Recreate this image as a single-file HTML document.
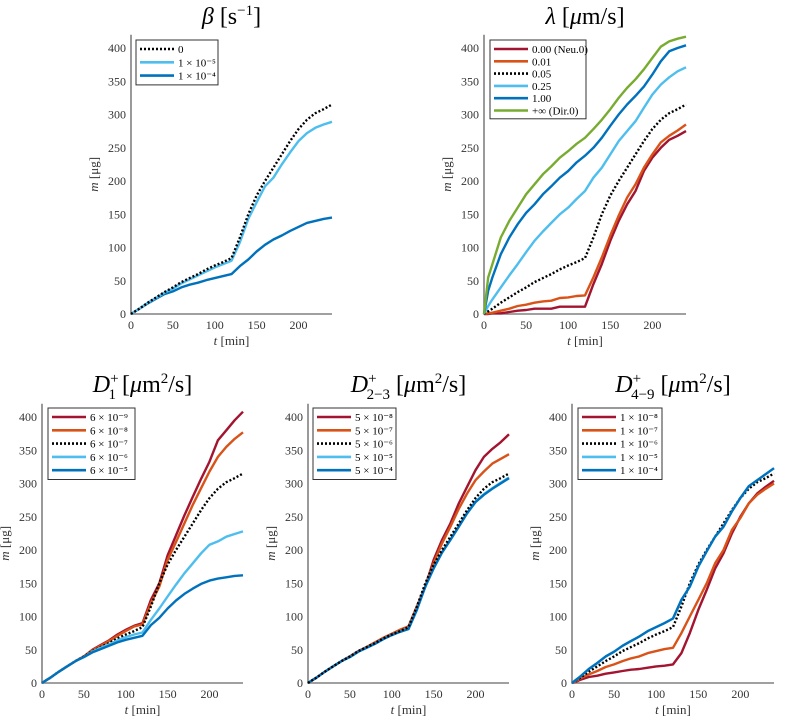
<!DOCTYPE html>
<html><head><meta charset="utf-8"><style>
body{margin:0;background:#fff;}
svg{display:block;font-family:"Liberation Serif",serif;}
</style></head><body>
<svg id="fig" width="789" height="721" viewBox="0 0 789 721"></svg>
<script>
const tVals=[0,5,10,20,30,40,50,60,70,80,90,100,110,120,130,140,150,160,170,180,190,200,210,220,230,240];
const xTicks=[0,50,100,150,200];
const yTicks=[0,50,100,150,200,250,300,350,400];
const refSeries=[0,4,8,17,25,33,40,48,54,60,67,73,78,84,115,150,178,200,220,240,260,278,292,302,308,315];
// beta
const betaLabels=["0","1 × 10⁻⁵","1 × 10⁻⁴"];
const beta1e5=[0,4,8,17,24,32,38,46,52,58,64,70,75,80,108,143,168,192,205,225,243,260,272,280,285,289];
const beta1e4=[0,4,8,16,23,30,34,40,44,47,51,54,57,60,72,82,94,104,112,118,125,131,137,140,143,145];
// lambda
const lamLabels=["0.00 (Neu.0)","0.01","0.05","0.25","1.00","+∞ (Dir.0)"];
const lam000=[0,0,1,1,3,5,6,8,8,8,11,11,11,11,45,75,110,140,165,185,215,235,250,262,268,275];
const lam001=[0,1,2,5,8,12,14,17,19,20,24,25,27,28,55,85,118,148,175,195,220,240,258,268,276,285];
const lam025=[0,12,22,40,58,75,93,110,124,137,150,160,173,185,205,220,240,260,275,290,310,330,345,356,365,371];
const lam100=[0,35,55,90,115,135,152,165,180,192,205,215,228,238,250,265,283,300,315,328,342,360,380,395,400,404];
const lamInf=[0,55,75,115,140,160,180,195,210,222,235,245,256,265,278,292,308,325,340,353,368,385,402,410,414,417];
// D1
const d1Labels=["6 × 10⁻⁹","6 × 10⁻⁸","6 × 10⁻⁷","6 × 10⁻⁶","6 × 10⁻⁵"];
const d1a=[0,4,8,17,25,33,40,50,57,64,73,80,86,90,125,150,192,222,252,280,307,333,365,380,395,408];
const d1b=[0,4,8,17,25,33,40,49,56,63,71,78,85,88,120,145,185,212,240,268,293,318,340,355,367,377];
const d1d=[0,4,8,17,25,33,39,47,53,58,64,69,73,76,95,112,130,148,165,180,195,208,213,220,224,228];
const d1e=[0,4,8,17,25,33,39,46,51,56,61,65,68,71,87,98,112,124,134,142,149,154,157,159,161,162];
// D2-3
const d2Labels=["5 × 10⁻⁸","5 × 10⁻⁷","5 × 10⁻⁶","5 × 10⁻⁵","5 × 10⁻⁴"];
const d2a=[0,4,8,17,25,33,40,48,54,61,68,74,80,85,115,145,185,215,240,270,295,320,340,352,362,374];
const d2b=[0,4,8,17,25,33,40,48,54,61,68,74,80,85,115,145,180,210,235,262,285,305,318,330,337,344];
const d2d=[0,4,8,17,25,33,39,47,53,59,66,72,77,82,111,145,173,197,216,236,256,273,284,293,301,309];
const d2e=[0,4,8,17,25,33,39,47,53,59,66,72,77,81,110,145,172,196,215,235,255,272,283,292,300,308];
// D4-9
const d4Labels=["1 × 10⁻⁸","1 × 10⁻⁷","1 × 10⁻⁶","1 × 10⁻⁵","1 × 10⁻⁴"];
const d4a=[0,2,5,9,11,14,16,18,20,21,23,25,26,28,45,75,110,140,172,195,225,250,270,285,295,304];
const d4b=[0,3,7,13,18,24,28,33,37,40,45,48,51,53,75,100,125,150,180,200,230,248,270,283,292,300];
const d4d=[0,5,10,21,30,40,47,56,63,70,78,84,90,97,125,145,175,198,220,235,258,278,296,305,314,323];
const d4e=[0,5,10,21,30,40,47,56,63,70,78,84,90,97,125,145,175,198,220,235,258,278,296,305,314,323];

const C={red:"#a2142f",orange:"#d95319",dot:"#000",lblue:"#4dbeee",blue:"#0072bd",green:"#77ac30"};
const NS="http://www.w3.org/2000/svg";
const fig=document.getElementById('fig');
function mk(tag,attrs,parent){const e=document.createElementNS(NS,tag);for(const k in attrs)e.setAttribute(k,attrs[k]);(parent||fig).appendChild(e);return e;}

function chart(cfg){
  const g=mk('g',{});
  
  
  const x=v=>cfg.x0+(cfg.x1-cfg.x0)*v/240;
  const y=v=>cfg.y0-(cfg.y0-cfg.y400)*v/400;
  const ti=mk('text',{x:(cfg.x0+cfg.x1)/2,y:cfg.ty,'text-anchor':'middle','font-size':24},g);
  
  
  ti.innerHTML=cfg.title;
  const top=y(420);
  const ax=mk('path',{d:`M${cfg.x0},${top}V${cfg.y0}H${cfg.x1}`,stroke:'#808080','stroke-width':1.6,fill:'none'},g);
  
  
  yTicks.forEach(v=>{
    const tl=mk('text',{x:cfg.x0-5,y:y(v)+4,'text-anchor':'end','font-size':12,fill:'#333'},g);
    
    
    tl.textContent=v;
  });
  xTicks.forEach(v=>{
    const tl=mk('text',{x:x(v),y:cfg.y0+15,'text-anchor':'middle','font-size':12,fill:'#333'},g);
    
    
    tl.textContent=v;
  });
  const xl=mk('text',{x:(cfg.x0+cfg.x1)/2,y:cfg.y0+31,'text-anchor':'middle','font-size':13,fill:'#333'},g);
  
  
  xl.innerHTML='<tspan font-style="italic">t</tspan> [min]';
  const yc=(cfg.y0+top)/2;
  const yl=mk('text',{x:cfg.x0-33,y:yc,'text-anchor':'middle','font-size':13,fill:'#333',transform:`rotate(-90 ${cfg.x0-33} ${yc})`},g);
  
  
  yl.innerHTML='<tspan font-style="italic">m</tspan> [μg]';
  const order=cfg.draw||cfg.series.map((s,i)=>i);
  order.forEach(i=>{
    const s=cfg.series[i];
    const d=s.data.map((v,k)=>(k?'L':'M')+x(tVals[k]).toFixed(1)+','+y(v).toFixed(1)).join('');
    const p=mk('path',{d,fill:'none',stroke:s.c,'stroke-width':2.4,'stroke-linejoin':'round'},g);
    if(s.dot)p.setAttribute('stroke-dasharray','2 2');
    
    
  });
  const L=cfg.leg;
  const lg=mk('g',{},g);
  
  
  const rh=L.rh||13.3;
  mk('rect',{x:L.x,y:L.y,width:L.w,height:cfg.series.length*rh+5,fill:'#fff',stroke:'#333','stroke-width':1},lg);
  cfg.series.forEach((s,i)=>{
    const yy=L.y+9+i*rh;
    const ln=mk('line',{x1:L.x+4,x2:L.x+38,y1:yy,y2:yy,stroke:s.c,'stroke-width':2.6},lg);
    if(s.dot)ln.setAttribute('stroke-dasharray','2 2');
    const tx=mk('text',{x:L.x+42,y:yy+4,'font-size':11,fill:'#000'},lg);
    
    
    tx.textContent=cfg.labels[i];
  });
}

const dTitle=sub=>'<tspan font-style="italic">D</tspan><tspan dy="-9" font-size="15">+</tspan><tspan dx="-10" dy="16" font-size="15">'+sub+'</tspan><tspan dy="-7"> [</tspan><tspan font-style="italic">μ</tspan>m<tspan dy="-9" font-size="15">2</tspan><tspan dy="9">/s]</tspan>';

chart({name:'beta-chart',x0:131,x1:332,y0:314,y400:48,ty:24,
  title:'<tspan font-style="italic">β</tspan> [s<tspan dy="-9" font-size="15">−1</tspan><tspan dy="9">]</tspan>',
  labels:betaLabels,leg:{x:136,y:40,w:82},
  series:[{data:refSeries,c:C.dot,dot:1},{data:beta1e5,c:C.lblue},{data:beta1e4,c:C.blue}],draw:[2,1,0]});
chart({name:'lambda-chart',x0:484,x1:686,y0:314,y400:48,ty:24,
  title:'<tspan font-style="italic">λ</tspan> [<tspan font-style="italic">μ</tspan>m/s]',
  labels:lamLabels,leg:{x:490,y:40,w:96,rh:12.3},
  series:[{data:lam000,c:C.red},{data:lam001,c:C.orange},{data:refSeries,c:C.dot,dot:1},{data:lam025,c:C.lblue},{data:lam100,c:C.blue},{data:lamInf,c:C.green}]});
chart({name:'d1-chart',x0:42,x1:243,y0:683,y400:417,ty:392,
  title:dTitle('1'),
  labels:d1Labels,leg:{x:48,y:408,w:87},
  series:[{data:d1a,c:C.red},{data:d1b,c:C.orange},{data:refSeries,c:C.dot,dot:1},{data:d1d,c:C.lblue},{data:d1e,c:C.blue}]});
chart({name:'d23-chart',x0:308,x1:509,y0:683,y400:417,ty:392,
  title:dTitle('2−3'),
  labels:d2Labels,leg:{x:313,y:408,w:83},
  series:[{data:d2a,c:C.red},{data:d2b,c:C.orange},{data:refSeries,c:C.dot,dot:1},{data:d2d,c:C.lblue},{data:d2e,c:C.blue}],draw:[0,1,3,4,2]});
chart({name:'d49-chart',x0:572,x1:774,y0:683,y400:417,ty:392,
  title:dTitle('4−9'),
  labels:d4Labels,leg:{x:578,y:408,w:84},
  series:[{data:d4a,c:C.red},{data:d4b,c:C.orange},{data:refSeries,c:C.dot,dot:1},{data:d4d,c:C.lblue},{data:d4e,c:C.blue}]});
</script>
</body></html>
